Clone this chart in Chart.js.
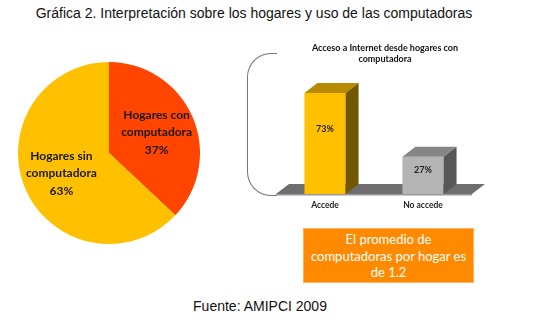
<!DOCTYPE html>
<html>
<head>
<meta charset="utf-8">
<script src="https://cdn.jsdelivr.net/npm/chart.js@4"></script>
<style>
  html, body { margin:0; padding:0; background:#fff; width:544px; height:334px; overflow:hidden; }
  .abs { position:absolute; }
  #title { left:0; top:5px; width:508px; text-align:center; font-family:"Liberation Sans", Arial, sans-serif; font-size:14px; color:#111; white-space:nowrap; }
  #footer { left:160px; top:298px; width:200px; text-align:center; font-family:"Liberation Sans", Arial, sans-serif; font-size:14px; color:#111; }
  #pieBox { left:18px; top:62px; width:182px; height:182px; }
  #barBox { left:240px; top:40px; width:250px; height:175px; }
  #bracket { left:247px; top:53px; width:30px; height:143px; border:1px solid #777; border-right:none; border-radius:24px 0 0 24px; box-sizing:border-box; }
  #note { left:303px; top:228px; width:171px; height:55px; background:#FF8A00; border:1px solid #FFB060; box-sizing:border-box; color:#fff; font-family:Lato, "Open Sans", sans-serif; font-size:13px; line-height:16.5px; text-align:center; padding-top:2px; }
</style>
</head>
<body>
<div id="title" class="abs">Gráfica 2. Interpretación sobre los hogares y uso de las computadoras</div>
<div id="pieBox" class="abs"><canvas id="pie"></canvas></div>
<div id="bracket" class="abs"></div>
<div id="barBox" class="abs"><canvas id="bar"></canvas></div>
<div id="note" class="abs">El promedio de<br>computadoras por hogar es<br>de 1.2</div>
<div id="footer" class="abs">Fuente: AMIPCI 2009</div>
<script>
const pieLabels = [['Hogares con', 'computadora'], ['Hogares sin', 'computadora']];
const pieValues = [37, 63];
const pieColors = ['#FF4500', '#FFC000'];

const barTitle = ['Acceso a Internet desde hogares con', 'computadora'];
const barCategories = ['Accede', 'No accede'];
const barValues = [73, 27];
const barFront = ['#FFC000', '#B4B4B4'];
const barTop = ['#B88A00', '#868686'];
const barSide = ['#735600', '#575757'];

const pieLabelPlugin = {
  id: 'pieLabels',
  afterDatasetsDraw(chart) {
    const ctx = chart.ctx;
    const meta = chart.getDatasetMeta(0);
    ctx.save();
    ctx.font = 'bold 12px Lato, "Open Sans", sans-serif';
    ctx.fillStyle = '#1a1a1a';
    ctx.textAlign = 'center';
    ctx.textBaseline = 'middle';
    meta.data.forEach((arc, i) => {
      const p = arc.getProps(['x', 'y', 'startAngle', 'endAngle', 'outerRadius']);
      const mid = (p.startAngle + p.endAngle) / 2;
      const r = p.outerRadius * 0.57;
      const cx = p.x + Math.cos(mid) * r;
      const cy = p.y + Math.sin(mid) * r;
      const lines = pieLabels[i].concat([pieValues[i] + '%']);
      lines.forEach((t, k) => ctx.fillText(t, cx, cy + (k - 1) * 17.5));
    });
    ctx.restore();
  }
};

new Chart(document.getElementById('pie'), {
  type: 'pie',
  data: {
    labels: pieLabels.map(l => l.join(' ')),
    datasets: [{ data: pieValues, backgroundColor: pieColors, borderWidth: 0 }]
  },
  options: {
    responsive: true, maintainAspectRatio: false, animation: false,
    layout: { padding: 0 },
    plugins: { legend: { display: false }, tooltip: { enabled: false } }
  },
  plugins: [pieLabelPlugin]
});

const DX = 13, DY = -10;
const bar3dPlugin = {
  id: 'bar3d',
  beforeDatasetsDraw(chart) {
    const ctx = chart.ctx;
    const a = chart.chartArea;
    const y0 = chart.scales.y.getPixelForValue(0);
    ctx.save();
    ctx.fillStyle = '#6e6e6e';
    ctx.beginPath();
    ctx.moveTo(a.left, y0);
    ctx.lineTo(a.left + DX, y0 + DY);
    ctx.lineTo(a.right + DX, y0 + DY);
    ctx.lineTo(a.right, y0);
    ctx.closePath();
    ctx.fill();
    ctx.fillStyle = '#9a9a9a';
    ctx.fillRect(a.left, y0, a.right - a.left, 1.5);
    ctx.restore();
  },
  afterDatasetsDraw(chart) {
    const ctx = chart.ctx;
    const meta = chart.getDatasetMeta(0);
    ctx.save();
    meta.data.forEach((b, i) => {
      const p = b.getProps(['x', 'y', 'base', 'width']);
      const l = p.x - p.width / 2, r = p.x + p.width / 2;
      ctx.fillStyle = barTop[i];
      ctx.beginPath();
      ctx.moveTo(l, p.y);
      ctx.lineTo(l + DX, p.y + DY);
      ctx.lineTo(r + DX, p.y + DY);
      ctx.lineTo(r, p.y);
      ctx.closePath();
      ctx.fill();
      ctx.fillStyle = barSide[i];
      ctx.beginPath();
      ctx.moveTo(r, p.y);
      ctx.lineTo(r + DX, p.y + DY);
      ctx.lineTo(r + DX, p.base + DY);
      ctx.lineTo(r, p.base);
      ctx.closePath();
      ctx.fill();
      ctx.font = 'bold 9px Lato, "Open Sans", sans-serif';
      ctx.fillStyle = '#222';
      ctx.textAlign = 'center';
      ctx.textBaseline = 'middle';
      ctx.fillText(barValues[i] + '%', p.x, p.y + (p.base - p.y) * 0.36);
    });
    ctx.font = 'bold 9px Lato, "Open Sans", sans-serif';
    ctx.fillStyle = '#111';
    ctx.textAlign = 'center';
    ctx.textBaseline = 'middle';
    barTitle.forEach((t, k) => ctx.fillText(t, 145, 8 + k * 11));
    ctx.restore();
  }
};

new Chart(document.getElementById('bar'), {
  type: 'bar',
  data: {
    labels: barCategories,
    datasets: [{
      data: barValues,
      backgroundColor: barFront,
      borderWidth: 0,
      categoryPercentage: 1,
      barPercentage: 0.42
    }]
  },
  options: {
    responsive: true, maintainAspectRatio: false, animation: false,
    layout: { padding: { left: 36, right: 18, top: 44, bottom: 0 } },
    plugins: { legend: { display: false }, tooltip: { enabled: false }, title: { display: false } },
    scales: {
      y: { display: false, min: 0, max: 79.5 },
      x: {
        grid: { display: false, drawTicks: false },
        border: { display: false },
        ticks: { padding: 6, color: '#222', font: { family: 'Lato, "Open Sans", sans-serif', size: 8.5, weight: 'bold' } },
        afterFit(scale) { scale.height = 21; }
      }
    }
  },
  plugins: [bar3dPlugin]
});
</script>
</body>
</html>
